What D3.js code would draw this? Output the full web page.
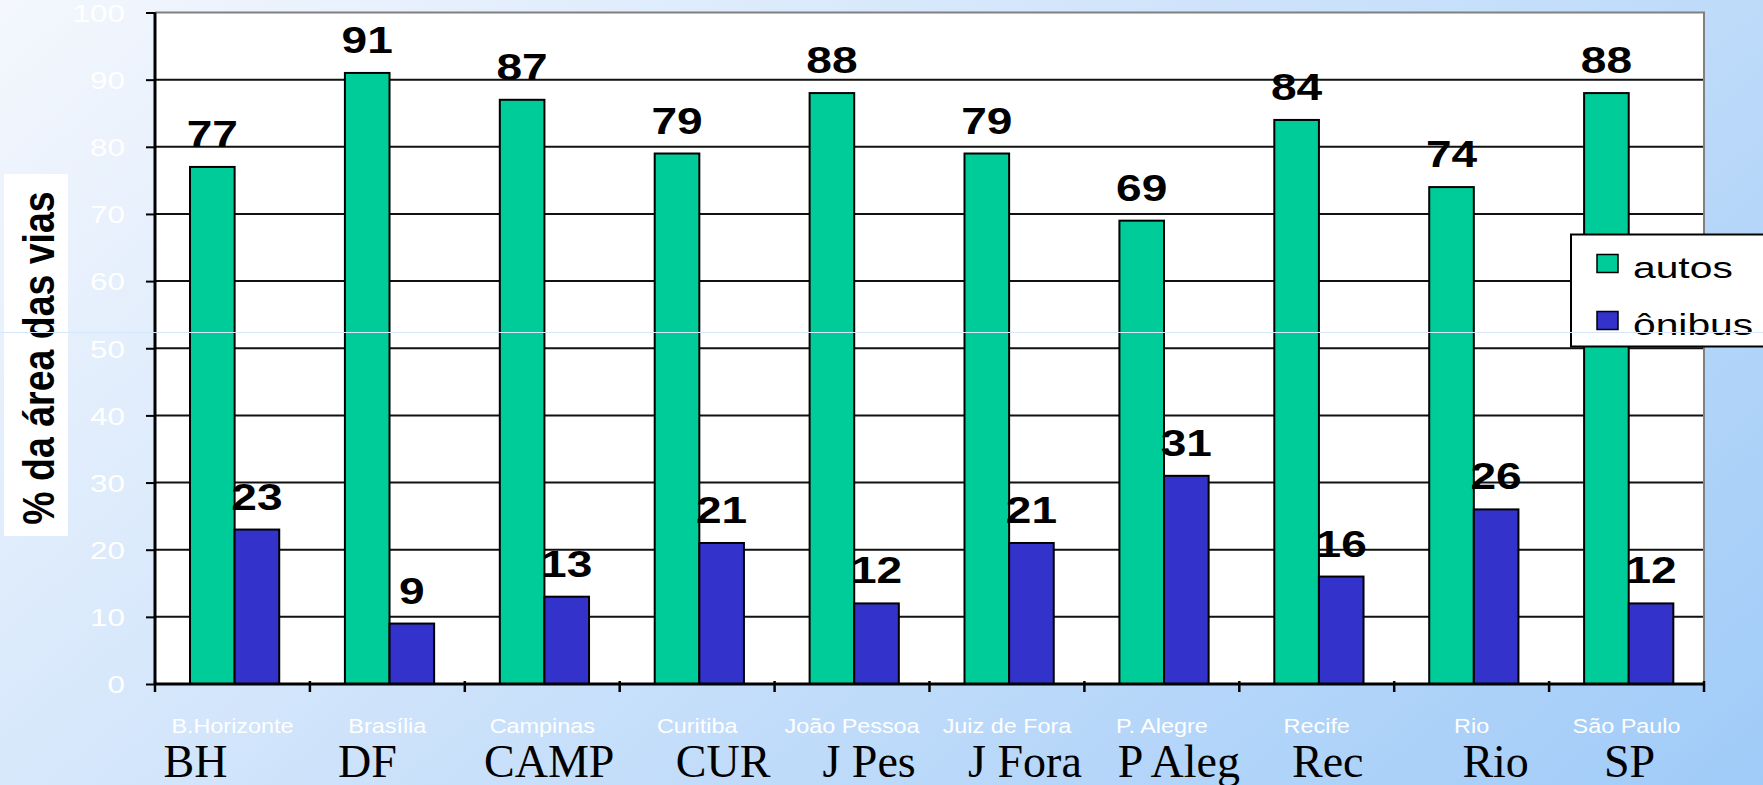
<!DOCTYPE html>
<html>
<head>
<meta charset="utf-8">
<script src="https://cdn.jsdelivr.net/npm/d3@7"></script>
<style>
  html, body { margin: 0; padding: 0; overflow: hidden; }
  svg { display: block; }
</style>
</head>
<body>
<svg id="chart" width="1763" height="785"></svg>
<script>
// Share of road area used by cars and buses, per city
const cities = ["B.Horizonte", "Brasília", "Campinas", "Curitiba", "João Pessoa",
                "Juiz de Fora", "P. Alegre", "Recife", "Rio", "São Paulo"];
const cityCodes = ["BH", "DF", "CAMP", "CUR", "J Pes", "J Fora", "P Aleg", "Rec", "Rio", "SP"];
const seriesNames = ["autos", "ônibus"];
const autos = [77, 91, 87, 79, 88, 79, 69, 84, 74, 88];
const onibus = [23, 9, 13, 21, 12, 21, 31, 16, 26, 12];
const yTicks = [0, 10, 20, 30, 40, 50, 60, 70, 80, 90, 100];
const yTitle = "% da área das vias";

// layout
const W = 1763, H = 785;
const plot = { left: 155, right: 1704, top: 12.5, bottom: 684 };
const colors = { "autos": "#00CC99", "ônibus": "#3333CC" };
const sansFont = "'Liberation Sans', Arial, sans-serif";
const serifFont = "'Liberation Serif', 'Times New Roman', serif";
const stretch = 1.28;               // horizontal stretch of the chart's lettering
const codeShift = [-37, -20, 7, 26, 17, 18, 17, 11, 24, 3];  // hand placement of the city codes

const svg = d3.select("#chart");

// background gradient
const defs = svg.append("defs");
const grad = defs.append("linearGradient")
  .attr("id", "bg").attr("gradientUnits", "userSpaceOnUse")
  .attr("x1", 0).attr("y1", 0).attr("x2", 1116).attr("y2", 1329);
grad.append("stop").attr("offset", 0).attr("stop-color", "#f4f7fd");
grad.append("stop").attr("offset", 1).attr("stop-color", "#a0cbf8");
svg.append("rect").attr("width", W).attr("height", H).attr("fill", "url(#bg)");

// scales
const y = d3.scaleLinear().domain([0, 100]).range([plot.bottom, plot.top]);
const x0 = d3.scaleBand().domain(cities).range([plot.left, plot.right]);
const bw = x0.bandwidth();
const x1 = d3.scaleBand().domain(seriesNames).range([bw * 0.226, bw * 0.802]);

// plot area
svg.append("rect")
  .attr("x", plot.left).attr("y", plot.top)
  .attr("width", plot.right - plot.left).attr("height", plot.bottom - plot.top)
  .attr("fill", "#ffffff");

// gridlines
svg.append("g").selectAll("line")
  .data(yTicks.filter(t => t > 0 && t < 100))
  .join("line")
  .attr("x1", plot.left).attr("x2", plot.right)
  .attr("y1", d => y(d)).attr("y2", d => y(d))
  .attr("stroke", "#111").attr("stroke-width", 2);

// plot border (top and right)
svg.append("path")
  .attr("d", `M${plot.left},${y(100)}H${plot.right}V${plot.bottom}`)
  .attr("fill", "none").attr("stroke", "#808080").attr("stroke-width", 2);

// bars
const rows = cities.map((c, i) => ({ city: c, values: [
  { key: "autos", value: autos[i] },
  { key: "ônibus", value: onibus[i] }
]}));

const groups = svg.append("g").selectAll("g")
  .data(rows).join("g")
  .attr("transform", d => `translate(${x0(d.city)},0)`);

groups.selectAll("rect")
  .data(d => d.values).join("rect")
  .attr("x", d => x1(d.key))
  .attr("y", d => y(d.value))
  .attr("width", x1.bandwidth())
  .attr("height", d => y(0) - y(d.value))
  .attr("fill", d => colors[d.key])
  .attr("stroke", "#000").attr("stroke-width", 2);

// value labels
groups.selectAll("text")
  .data(d => d.values).join("text")
  .attr("transform", d => `translate(${x1(d.key) + x1.bandwidth() / 2},${y(d.value) - 20}) scale(${stretch},1)`)
  .attr("text-anchor", "middle")
  .attr("font-family", sansFont).attr("font-weight", "bold").attr("font-size", 36)
  .attr("fill", "#000")
  .text(d => d.value);

// y axis
const yAxis = svg.append("g")
  .attr("transform", `translate(${plot.left},0)`)
  .call(d3.axisLeft(y).tickValues(yTicks).tickSize(9).tickFormat(d3.format("d")));
yAxis.select(".domain").attr("stroke", "#000").attr("stroke-width", 3)
  .attr("d", `M0,${plot.top}V${plot.bottom}`);
yAxis.selectAll(".tick line").attr("stroke", "#000").attr("stroke-width", 2);
yAxis.selectAll(".tick text")
  .attr("x", null).attr("dy", "0.36em")
  .attr("transform", `translate(-30,0) scale(${stretch},1)`)
  .attr("text-anchor", "end")
  .attr("fill", "#ffffff")
  .attr("font-family", sansFont).attr("font-size", 24.5);

// x axis: line with ticks on the category boundaries
const xAxis = svg.append("g");
xAxis.append("line")
  .attr("x1", plot.left).attr("x2", plot.right)
  .attr("y1", y(0)).attr("y2", y(0))
  .attr("stroke", "#000").attr("stroke-width", 3);
const bounds = cities.map(c => x0(c)).concat([x0.range()[1]]);
xAxis.selectAll("line.tick")
  .data(bounds).join("line").attr("class", "tick")
  .attr("x1", d => d).attr("x2", d => d)
  .attr("y1", y(0) - 3).attr("y2", y(0) + 8)
  .attr("stroke", "#000").attr("stroke-width", 2.5);

// city names (white, chart lettering)
xAxis.selectAll("text.city")
  .data(cities).join("text").attr("class", "city")
  .attr("transform", d => `translate(${x0(d) + bw / 2},733) scale(1.2,1)`)
  .attr("text-anchor", "middle")
  .attr("fill", "#ffffff")
  .attr("font-family", sansFont).attr("font-size", 19.5)
  .text(d => d);

// city codes (serif)
svg.append("g").selectAll("text")
  .data(cityCodes).join("text")
  .attr("x", (d, i) => x0(cities[i]) + bw / 2 + codeShift[i])
  .attr("y", 777)
  .attr("text-anchor", "middle")
  .attr("fill", "#000")
  .attr("font-family", serifFont).attr("font-size", 46)
  .text(d => d);

// y title on a white box
svg.append("rect")
  .attr("x", 4).attr("y", 174).attr("width", 64).attr("height", 362)
  .attr("fill", "#ffffff");
svg.append("text")
  .attr("transform", "translate(54,358) scale(1.2,1) rotate(-90)")
  .attr("text-anchor", "middle")
  .attr("font-family", sansFont).attr("font-weight", "bold").attr("font-size", 37.5)
  .attr("fill", "#000")
  .text(yTitle);

// legend
const legend = svg.append("g").attr("transform", "translate(1571,234.5)");
legend.append("rect")
  .attr("width", 260).attr("height", 112)
  .attr("fill", "#ffffff").attr("stroke", "#000").attr("stroke-width", 2);
const items = legend.selectAll("g.item")
  .data(seriesNames).join("g").attr("class", "item")
  .attr("transform", (d, i) => `translate(0,${20 + i * 57})`);
items.append("rect")
  .attr("x", 26).attr("width", 21).attr("height", 18)
  .attr("fill", d => colors[d]).attr("stroke", "#000").attr("stroke-width", 1.5);
items.append("text")
  .attr("transform", "translate(62,23.5) scale(1.36,1)")
  .attr("font-family", sansFont).attr("font-size", 30)
  .attr("fill", "#000")
  .text(d => d);

// thin light seam across the slide
svg.append("line")
  .attr("x1", 0).attr("x2", W).attr("y1", 332.5).attr("y2", 332.5)
  .attr("stroke", "#d6e7fb").attr("stroke-width", 1);
</script>
</body>
</html>
